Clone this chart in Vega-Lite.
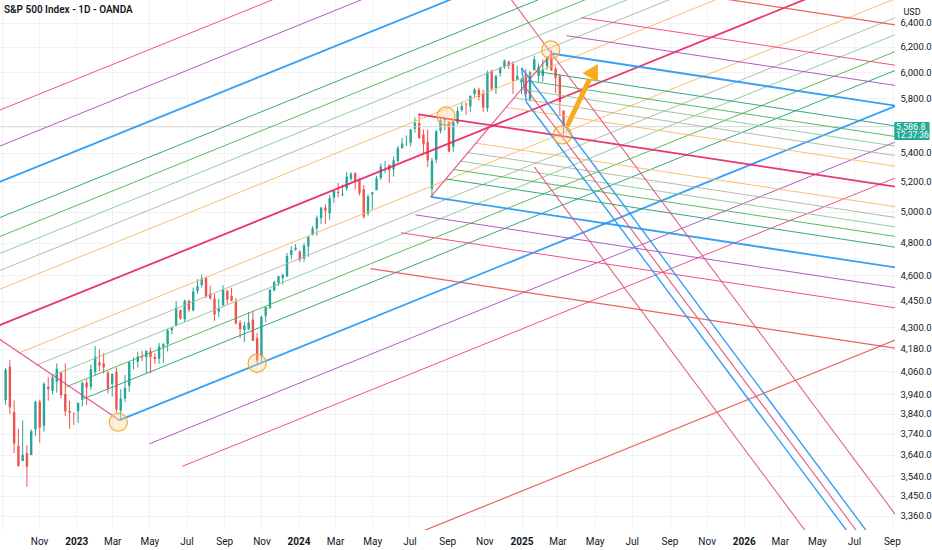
{
  "$schema": "https://vega.github.io/schema/vega-lite/v6.json",
  "width": 895,
  "height": 530,
  "autosize": {"type": "none"},
  "padding": {"left": 0, "top": 0, "right": 37, "bottom": 20},
  "background": "white",
  "config": {"view": {"stroke": null}, "font": "Roboto"},
  "title": {
    "text": "S&P 500 Index - 1D - OANDA",
    "anchor": "start",
    "frame": "group",
    "fontSize": 10,
    "fontWeight": 600,
    "color": "#131722",
    "offset": -15,
    "dx": 4
  },
  "datasets": {
    "candles": [
      {"d": "2022-09-07", "o": 3909, "h": 4076, "l": 3886, "c": 4067},
      {"d": "2022-09-14", "o": 4083, "h": 4119, "l": 3838, "c": 3873},
      {"d": "2022-09-21", "o": 3849, "h": 3907, "l": 3647, "c": 3693},
      {"d": "2022-09-28", "o": 3682, "h": 3763, "l": 3584, "c": 3586},
      {"d": "2022-10-05", "o": 3610, "h": 3807, "l": 3610, "c": 3640},
      {"d": "2022-10-12", "o": 3647, "h": 3686, "l": 3491, "c": 3583},
      {"d": "2022-10-19", "o": 3638, "h": 3762, "l": 3640, "c": 3753},
      {"d": "2022-10-26", "o": 3762, "h": 3905, "l": 3731, "c": 3901},
      {"d": "2022-11-02", "o": 3901, "h": 3911, "l": 3698, "c": 3771},
      {"d": "2022-11-09", "o": 3780, "h": 4001, "l": 3751, "c": 3993},
      {"d": "2022-11-16", "o": 3978, "h": 4028, "l": 3906, "c": 3965},
      {"d": "2022-11-23", "o": 3956, "h": 4034, "l": 3938, "c": 4026},
      {"d": "2022-11-30", "o": 4005, "h": 4101, "l": 3947, "c": 4072},
      {"d": "2022-12-07", "o": 4053, "h": 4053, "l": 3919, "c": 3934},
      {"d": "2022-12-14", "o": 3940, "h": 4101, "l": 3828, "c": 3852},
      {"d": "2022-12-21", "o": 3854, "h": 3906, "l": 3765, "c": 3845},
      {"d": "2022-12-28", "o": 3843, "h": 3846, "l": 3784, "c": 3840},
      {"d": "2023-01-04", "o": 3853, "h": 3896, "l": 3794, "c": 3895},
      {"d": "2023-01-11", "o": 3911, "h": 4004, "l": 3877, "c": 3999},
      {"d": "2023-01-18", "o": 3999, "h": 4015, "l": 3885, "c": 3973},
      {"d": "2023-01-25", "o": 3978, "h": 4095, "l": 3960, "c": 4071},
      {"d": "2023-02-01", "o": 4055, "h": 4195, "l": 4037, "c": 4136},
      {"d": "2023-02-08", "o": 4106, "h": 4176, "l": 4060, "c": 4090},
      {"d": "2023-02-15", "o": 4101, "h": 4156, "l": 4047, "c": 4079},
      {"d": "2023-02-22", "o": 4052, "h": 4060, "l": 3943, "c": 3970},
      {"d": "2023-03-01", "o": 3993, "h": 4048, "l": 3928, "c": 4045},
      {"d": "2023-03-08", "o": 4056, "h": 4079, "l": 3847, "c": 3861},
      {"d": "2023-03-15", "o": 3855, "h": 3965, "l": 3808, "c": 3917},
      {"d": "2023-03-22", "o": 3917, "h": 4039, "l": 3899, "c": 3971},
      {"d": "2023-03-29", "o": 3982, "h": 4110, "l": 3951, "c": 4109},
      {"d": "2023-04-05", "o": 4102, "h": 4133, "l": 4069, "c": 4105},
      {"d": "2023-04-12", "o": 4110, "h": 4164, "l": 4079, "c": 4138},
      {"d": "2023-04-19", "o": 4140, "h": 4169, "l": 4114, "c": 4133},
      {"d": "2023-04-26", "o": 4134, "h": 4170, "l": 4049, "c": 4169},
      {"d": "2023-05-03", "o": 4167, "h": 4187, "l": 4049, "c": 4136},
      {"d": "2023-05-10", "o": 4136, "h": 4155, "l": 4098, "c": 4124},
      {"d": "2023-05-17", "o": 4127, "h": 4212, "l": 4099, "c": 4192},
      {"d": "2023-05-24", "o": 4190, "h": 4212, "l": 4103, "c": 4205},
      {"d": "2023-05-31", "o": 4206, "h": 4290, "l": 4166, "c": 4282},
      {"d": "2023-06-07", "o": 4283, "h": 4299, "l": 4260, "c": 4299},
      {"d": "2023-06-14", "o": 4308, "h": 4449, "l": 4305, "c": 4410},
      {"d": "2023-06-21", "o": 4396, "h": 4400, "l": 4341, "c": 4348},
      {"d": "2023-06-28", "o": 4345, "h": 4458, "l": 4328, "c": 4450},
      {"d": "2023-07-05", "o": 4450, "h": 4456, "l": 4385, "c": 4399},
      {"d": "2023-07-12", "o": 4395, "h": 4528, "l": 4389, "c": 4505},
      {"d": "2023-07-19", "o": 4507, "h": 4578, "l": 4493, "c": 4536},
      {"d": "2023-07-26", "o": 4543, "h": 4607, "l": 4528, "c": 4582},
      {"d": "2023-08-02", "o": 4585, "h": 4594, "l": 4466, "c": 4478},
      {"d": "2023-08-09", "o": 4492, "h": 4540, "l": 4458, "c": 4464},
      {"d": "2023-08-16", "o": 4464, "h": 4490, "l": 4335, "c": 4370},
      {"d": "2023-08-23", "o": 4389, "h": 4462, "l": 4356, "c": 4406},
      {"d": "2023-08-30", "o": 4426, "h": 4541, "l": 4415, "c": 4516},
      {"d": "2023-09-06", "o": 4510, "h": 4514, "l": 4430, "c": 4457},
      {"d": "2023-09-13", "o": 4480, "h": 4527, "l": 4448, "c": 4450},
      {"d": "2023-09-20", "o": 4445, "h": 4466, "l": 4316, "c": 4320},
      {"d": "2023-09-27", "o": 4325, "h": 4339, "l": 4238, "c": 4288},
      {"d": "2023-10-04", "o": 4284, "h": 4330, "l": 4216, "c": 4309},
      {"d": "2023-10-11", "o": 4289, "h": 4385, "l": 4283, "c": 4327},
      {"d": "2023-10-18", "o": 4342, "h": 4394, "l": 4223, "c": 4224},
      {"d": "2023-10-25", "o": 4239, "h": 4268, "l": 4103, "c": 4117},
      {"d": "2023-11-01", "o": 4139, "h": 4366, "l": 4113, "c": 4358},
      {"d": "2023-11-08", "o": 4364, "h": 4415, "l": 4329, "c": 4415},
      {"d": "2023-11-15", "o": 4407, "h": 4520, "l": 4406, "c": 4514},
      {"d": "2023-11-22", "o": 4511, "h": 4568, "l": 4506, "c": 4559},
      {"d": "2023-11-29", "o": 4555, "h": 4598, "l": 4537, "c": 4595},
      {"d": "2023-12-06", "o": 4584, "h": 4609, "l": 4546, "c": 4604},
      {"d": "2023-12-13", "o": 4593, "h": 4738, "l": 4593, "c": 4719},
      {"d": "2023-12-20", "o": 4725, "h": 4778, "l": 4697, "c": 4754},
      {"d": "2023-12-27", "o": 4758, "h": 4793, "l": 4751, "c": 4770},
      {"d": "2024-01-03", "o": 4745, "h": 4755, "l": 4682, "c": 4697},
      {"d": "2024-01-10", "o": 4703, "h": 4798, "l": 4683, "c": 4784},
      {"d": "2024-01-17", "o": 4777, "h": 4842, "l": 4714, "c": 4840},
      {"d": "2024-01-24", "o": 4853, "h": 4907, "l": 4845, "c": 4891},
      {"d": "2024-01-31", "o": 4892, "h": 4975, "l": 4845, "c": 4959},
      {"d": "2024-02-07", "o": 4957, "h": 5030, "l": 4918, "c": 5027},
      {"d": "2024-02-14", "o": 5026, "h": 5048, "l": 4920, "c": 5006},
      {"d": "2024-02-21", "o": 4989, "h": 5111, "l": 4946, "c": 5089},
      {"d": "2024-02-28", "o": 5093, "h": 5140, "l": 5058, "c": 5137},
      {"d": "2024-03-06", "o": 5131, "h": 5190, "l": 5095, "c": 5124},
      {"d": "2024-03-13", "o": 5111, "h": 5180, "l": 5101, "c": 5117},
      {"d": "2024-03-20", "o": 5154, "h": 5265, "l": 5138, "c": 5234},
      {"d": "2024-03-27", "o": 5219, "h": 5264, "l": 5203, "c": 5254},
      {"d": "2024-04-03", "o": 5257, "h": 5264, "l": 5146, "c": 5204},
      {"d": "2024-04-10", "o": 5217, "h": 5222, "l": 5107, "c": 5123},
      {"d": "2024-04-17", "o": 5149, "h": 5176, "l": 4954, "c": 4967},
      {"d": "2024-04-24", "o": 4988, "h": 5114, "l": 4973, "c": 5100},
      {"d": "2024-05-01", "o": 5114, "h": 5129, "l": 5011, "c": 5128},
      {"d": "2024-05-08", "o": 5142, "h": 5239, "l": 5142, "c": 5223},
      {"d": "2024-05-15", "o": 5225, "h": 5325, "l": 5211, "c": 5303},
      {"d": "2024-05-22", "o": 5305, "h": 5342, "l": 5257, "c": 5305},
      {"d": "2024-05-29", "o": 5316, "h": 5316, "l": 5192, "c": 5278},
      {"d": "2024-06-05", "o": 5284, "h": 5375, "l": 5234, "c": 5347},
      {"d": "2024-06-12", "o": 5341, "h": 5447, "l": 5331, "c": 5432},
      {"d": "2024-06-19", "o": 5432, "h": 5505, "l": 5430, "c": 5465},
      {"d": "2024-06-26", "o": 5459, "h": 5524, "l": 5447, "c": 5460},
      {"d": "2024-07-03", "o": 5471, "h": 5570, "l": 5445, "c": 5567},
      {"d": "2024-07-10", "o": 5572, "h": 5655, "l": 5545, "c": 5615},
      {"d": "2024-07-17", "o": 5614, "h": 5687, "l": 5498, "c": 5505},
      {"d": "2024-07-24", "o": 5529, "h": 5566, "l": 5390, "c": 5459},
      {"d": "2024-07-31", "o": 5476, "h": 5566, "l": 5300, "c": 5346},
      {"d": "2024-08-07", "o": 5151, "h": 5364, "l": 5097, "c": 5344},
      {"d": "2024-08-14", "o": 5351, "h": 5563, "l": 5327, "c": 5554},
      {"d": "2024-08-21", "o": 5557, "h": 5643, "l": 5539, "c": 5634},
      {"d": "2024-08-28", "o": 5637, "h": 5651, "l": 5560, "c": 5648},
      {"d": "2024-09-04", "o": 5623, "h": 5623, "l": 5403, "c": 5408},
      {"d": "2024-09-11", "o": 5442, "h": 5636, "l": 5406, "c": 5626},
      {"d": "2024-09-18", "o": 5615, "h": 5734, "l": 5602, "c": 5703},
      {"d": "2024-09-25", "o": 5711, "h": 5768, "l": 5697, "c": 5738},
      {"d": "2024-10-02", "o": 5757, "h": 5765, "l": 5674, "c": 5751},
      {"d": "2024-10-09", "o": 5737, "h": 5822, "l": 5695, "c": 5815},
      {"d": "2024-10-16", "o": 5830, "h": 5878, "l": 5801, "c": 5864},
      {"d": "2024-10-23", "o": 5863, "h": 5878, "l": 5782, "c": 5808},
      {"d": "2024-10-30", "o": 5833, "h": 5863, "l": 5696, "c": 5729},
      {"d": "2024-11-06", "o": 5723, "h": 6012, "l": 5696, "c": 5996},
      {"d": "2024-11-13", "o": 6008, "h": 6018, "l": 5853, "c": 5871},
      {"d": "2024-11-20", "o": 5874, "h": 5978, "l": 5830, "c": 5969},
      {"d": "2024-11-27", "o": 5992, "h": 6044, "l": 5964, "c": 6032},
      {"d": "2024-12-04", "o": 6041, "h": 6099, "l": 6025, "c": 6090},
      {"d": "2024-12-11", "o": 6083, "h": 6089, "l": 6024, "c": 6051},
      {"d": "2024-12-18", "o": 6063, "h": 6085, "l": 5832, "c": 5931},
      {"d": "2024-12-25", "o": 5940, "h": 6049, "l": 5933, "c": 5971},
      {"d": "2025-01-01", "o": 5920, "h": 5949, "l": 5829, "c": 5942},
      {"d": "2025-01-08", "o": 5982, "h": 6022, "l": 5808, "c": 5827},
      {"d": "2025-01-15", "o": 5788, "h": 6007, "l": 5774, "c": 5997},
      {"d": "2025-01-22", "o": 6014, "h": 6128, "l": 6014, "c": 6101},
      {"d": "2025-01-29", "o": 5969, "h": 6069, "l": 5924, "c": 6041},
      {"d": "2025-02-05", "o": 5970, "h": 6101, "l": 5923, "c": 6026},
      {"d": "2025-02-12", "o": 6046, "h": 6128, "l": 6016, "c": 6115},
      {"d": "2025-02-19", "o": 6121, "h": 6176, "l": 6009, "c": 6013},
      {"d": "2025-02-26", "o": 6027, "h": 6044, "l": 5837, "c": 5955},
      {"d": "2025-03-05", "o": 5968, "h": 5986, "l": 5667, "c": 5770},
      {"d": "2025-03-11", "o": 5705, "h": 5705, "l": 5528, "c": 5587}
    ],
    "lines": [
      {"fork": "A", "level": "1.5", "d1": "2022-06-01", "p1": 5549, "d2": "2026-12-13", "p2": 9454},
      {"fork": "A", "level": "1.25", "d1": "2022-06-01", "p1": 5294, "d2": "2026-12-13", "p2": 9021},
      {"fork": "A", "level": "1", "d1": "2022-06-01", "p1": 5052, "d2": "2026-12-13", "p2": 8609},
      {"fork": "A", "level": "0.75", "d1": "2022-06-01", "p1": 4822, "d2": "2026-12-13", "p2": 8216},
      {"fork": "A", "level": "0.618", "d1": "2022-06-01", "p1": 4704, "d2": "2026-12-13", "p2": 8015},
      {"fork": "A", "level": "0.5", "d1": "2022-06-01", "p1": 4601, "d2": "2026-12-13", "p2": 7840},
      {"fork": "A", "level": "0.382", "d1": "2022-06-01", "p1": 4500, "d2": "2026-12-13", "p2": 7668},
      {"fork": "A", "level": "0.25", "d1": "2022-06-01", "p1": 4391, "d2": "2026-12-13", "p2": 7481},
      {"fork": "A", "level": "median", "d1": "2022-06-01", "p1": 4190, "d2": "2026-12-13", "p2": 7139},
      {"fork": "A", "level": "0.25", "d1": "2022-09-28", "p1": 4156, "d2": "2026-12-13", "p2": 6813},
      {"fork": "A", "level": "0.382", "d1": "2022-10-27", "p1": 4091, "d2": "2026-12-13", "p2": 6647},
      {"fork": "A", "level": "0.5", "d1": "2022-11-21", "p1": 4034, "d2": "2026-12-13", "p2": 6501},
      {"fork": "A", "level": "0.618", "d1": "2022-12-16", "p1": 3978, "d2": "2026-12-13", "p2": 6359},
      {"fork": "A", "level": "0.75", "d1": "2023-01-14", "p1": 3917, "d2": "2026-12-13", "p2": 6204},
      {"fork": "A", "level": "1", "d1": "2023-03-13", "p1": 3808, "d2": "2026-12-13", "p2": 5921},
      {"fork": "A", "level": "1.25", "d1": "2023-05-01", "p1": 3692, "d2": "2026-12-13", "p2": 5650},
      {"fork": "A", "level": "1.5", "d1": "2023-06-24", "p1": 3585, "d2": "2026-12-13", "p2": 5391},
      {"fork": "A", "level": "2.618", "d1": "2024-05-15", "p1": 3222, "d2": "2026-12-13", "p2": 4363},
      {"fork": "A", "level": "handle", "d1": "2022-06-01", "p1": 4438, "d2": "2023-03-13", "p2": 3808},
      {"fork": "B", "level": "median", "d1": "2024-07-16", "p1": 5678, "d2": "2026-12-13", "p2": 5106},
      {"fork": "B", "level": "0.25", "d1": "2024-12-07", "p1": 5730, "d2": "2026-12-13", "p2": 5243},
      {"fork": "B", "level": "0.382", "d1": "2024-12-20", "p1": 5801, "d2": "2026-12-13", "p2": 5317},
      {"fork": "B", "level": "0.5", "d1": "2024-12-31", "p1": 5866, "d2": "2026-12-13", "p2": 5383},
      {"fork": "B", "level": "0.618", "d1": "2025-01-12", "p1": 5931, "d2": "2026-12-13", "p2": 5451},
      {"fork": "B", "level": "0.75", "d1": "2025-01-25", "p1": 6005, "d2": "2026-12-13", "p2": 5527},
      {"fork": "B", "level": "1", "d1": "2025-02-19", "p1": 6147, "d2": "2026-12-13", "p2": 5675},
      {"fork": "B", "level": "1.25", "d1": "2025-03-16", "p1": 6292, "d2": "2026-12-13", "p2": 5827},
      {"fork": "B", "level": "1.5", "d1": "2025-04-09", "p1": 6442, "d2": "2026-12-13", "p2": 5983},
      {"fork": "B", "level": "2", "d1": "2025-05-29", "p1": 6750, "d2": "2026-12-13", "p2": 6307},
      {"fork": "B", "level": "0.25", "d1": "2024-10-18", "p1": 5468, "d2": "2026-12-13", "p2": 4973},
      {"fork": "B", "level": "0.382", "d1": "2024-10-05", "p1": 5401, "d2": "2026-12-13", "p2": 4904},
      {"fork": "B", "level": "0.5", "d1": "2024-09-23", "p1": 5341, "d2": "2026-12-13", "p2": 4844},
      {"fork": "B", "level": "0.618", "d1": "2024-09-12", "p1": 5283, "d2": "2026-12-13", "p2": 4784},
      {"fork": "B", "level": "0.75", "d1": "2024-08-30", "p1": 5218, "d2": "2026-12-13", "p2": 4717},
      {"fork": "B", "level": "1", "d1": "2024-08-05", "p1": 5097, "d2": "2026-12-13", "p2": 4594},
      {"fork": "B", "level": "1.25", "d1": "2024-07-11", "p1": 4979, "d2": "2026-12-13", "p2": 4475},
      {"fork": "B", "level": "1.5", "d1": "2024-06-17", "p1": 4864, "d2": "2026-12-13", "p2": 4358},
      {"fork": "B", "level": "2", "d1": "2024-04-28", "p1": 4641, "d2": "2026-12-13", "p2": 4134},
      {"fork": "B", "level": "handle", "d1": "2024-08-05", "p1": 5097, "d2": "2025-02-19", "p2": 6147},
      {"fork": "C", "level": "steep", "d1": "2024-11-10", "p1": 6848, "d2": "2026-10-09", "p2": 3253},
      {"fork": "C", "level": "steep blue", "d1": "2025-01-01", "p1": 6032, "d2": "2026-09-06", "p2": 3135},
      {"fork": "C", "level": "steep blue", "d1": "2025-01-09", "p1": 5770, "d2": "2026-08-05", "p2": 3135},
      {"fork": "C", "level": "steep blue", "d1": "2025-01-01", "p1": 6032, "d2": "2025-01-09", "p2": 5770},
      {"fork": "C", "level": "steep", "d1": "2025-01-04", "p1": 5900, "d2": "2026-08-21", "p2": 3135},
      {"fork": "C", "level": "steep", "d1": "2025-01-22", "p1": 5301, "d2": "2026-06-01", "p2": 3124}
    ],
    "spots": [
      {"d": "2023-03-11", "p": 3798},
      {"d": "2023-10-25", "p": 4102},
      {"d": "2024-08-30", "p": 5665},
      {"d": "2025-02-18", "p": 6176},
      {"d": "2025-03-09", "p": 5527}
    ],
    "arrow": [
      {"d1": "2025-03-17", "p1": 5590, "d2": "2025-04-23", "p2": 5948, "hd": "2025-04-30", "hp": 6009}
    ]
  },
  "layer": [
    {
      "data": {"name": "candles"},
      "mark": {"type": "rule", "clip": true, "strokeWidth": 1},
      "encoding": {
        "x": {
          "field": "d",
          "type": "temporal",
          "scale": {"domain": [{"year": 2022, "month": 9, "date": 6}, {"year": 2026, "month": 8, "date": 29}], "nice": false},
          "axis": {
            "orient": "bottom",
            "title": null,
            "tickCount": {"interval": "month", "step": 2},
            "labelExpr": "datum.value < datetime(2022, 8, 20) ? '' : month(datum.value) == 0 ? timeFormat(datum.value, '%Y') : timeFormat(datum.value, '%b')",
            "labelFontWeight": {"condition": {"test": "month(datum.value) == 0", "value": "bold"}, "value": "normal"},
            "grid": true,
            "gridColor": "#f0f2f6",
            "domain": false,
            "ticks": false,
            "labelPadding": 6,
            "labelFontSize": 10,
            "labelColor": "#131722",
            "labelOverlap": false,
            "labelFlush": false
          }
        },
        "y": {
          "field": "l",
          "type": "quantitative",
          "scale": {"type": "log", "domain": [3299, 6592], "nice": false},
          "axis": {
            "orient": "right",
            "values": [6400, 6200, 6000, 5800, 5400, 5200, 5000, 4800, 4600, 4450, 4300, 4180, 4060, 3940, 3840, 3740, 3640, 3540, 3450, 3360],
            "format": ",.1f",
            "grid": true,
            "gridColor": "#f0f2f6",
            "domain": false,
            "ticks": false,
            "labelPadding": 5,
            "labelFontSize": 9.5,
            "labelColor": "#131722",
            "labelOverlap": false,
            "labelBound": false,
            "title": "USD",
            "titleAngle": 0,
            "titleX": 8,
            "titleY": 11,
            "titleAlign": "left",
            "titleBaseline": "middle",
            "titleFontSize": 9,
            "titleFontWeight": "normal",
            "titleColor": "#131722"
          }
        },
        "y2": {"field": "h"},
        "color": {"condition": {"test": "datum.c >= datum.o", "value": "#26a69a"}, "value": "#ef5350"}
      }
    },
    {
      "data": {"name": "candles"},
      "mark": {"type": "bar", "clip": true, "width": 2.4},
      "encoding": {
        "x": {"field": "d", "type": "temporal"},
        "y": {"field": "o", "type": "quantitative"},
        "y2": {"field": "c"},
        "color": {"condition": {"test": "datum.c >= datum.o", "value": "#26a69a"}, "value": "#ef5350"}
      }
    },
    {
      "data": {"values": [{}]},
      "mark": {"type": "rule", "color": "#d3d6dc", "strokeWidth": 1},
      "encoding": {
        "y": {"datum": 5586.8, "type": "quantitative"}
      }
    },
    {
      "data": {"name": "lines"},
      "mark": {"type": "rule", "clip": true, "opacity": 0.9},
      "encoding": {
        "x": {"field": "d1", "type": "temporal"},
        "x2": {"field": "d2"},
        "y": {"field": "p1", "type": "quantitative"},
        "y2": {"field": "p2"},
        "color": {
          "field": "level",
          "type": "nominal",
          "legend": null,
          "scale": {
            "domain": ["median", "handle", "0.25", "0.382", "0.5", "0.618", "0.75", "1", "1.25", "1.5", "2", "2.618", "steep", "steep blue"],
            "range": ["#e91e63", "#e8457a", "#f8b862", "#aab79f", "#86c98c", "#4caf50", "#1f9e72", "#2196f3", "#ab47bc", "#ec407a", "#e5534b", "#e5534b", "#e2506f", "#2196f3"]
          }
        },
        "strokeWidth": {
          "field": "level",
          "type": "nominal",
          "legend": null,
          "scale": {
            "type": "ordinal",
            "domain": ["median", "handle", "0.25", "0.382", "0.5", "0.618", "0.75", "1", "1.25", "1.5", "2", "2.618", "steep", "steep blue"],
            "range": [1.8, 1.2, 1, 1, 1, 1, 1, 1.8, 1, 1, 1.2, 1.2, 1.1, 1.4]
          }
        }
      }
    },
    {
      "data": {"name": "spots"},
      "mark": {"type": "point", "shape": "circle", "size": 330, "fill": "#fcd48a", "fillOpacity": 0.35, "stroke": "#f2a93b", "strokeWidth": 1.2, "opacity": 1},
      "encoding": {
        "x": {"field": "d", "type": "temporal"},
        "y": {"field": "p", "type": "quantitative"}
      }
    },
    {
      "data": {"name": "arrow"},
      "mark": {"type": "rule", "color": "#f7ab1e", "strokeWidth": 5},
      "encoding": {
        "x": {"field": "d1", "type": "temporal"},
        "x2": {"field": "d2"},
        "y": {"field": "p1", "type": "quantitative"},
        "y2": {"field": "p2"}
      }
    },
    {
      "data": {"name": "arrow"},
      "mark": {"type": "point", "shape": "triangle-up", "size": 320, "angle": 29, "filled": true, "color": "#f7ab1e", "opacity": 1},
      "encoding": {
        "x": {"field": "hd", "type": "temporal"},
        "y": {"field": "hp", "type": "quantitative"}
      }
    },
    {
      "data": {"values": [{}]},
      "mark": {"type": "rect", "color": "#22ab94", "clip": false, "cornerRadius": 1},
      "encoding": {
        "x": {"datum": {"year": 2026, "month": 9, "date": 5}, "type": "temporal"},
        "x2": {"datum": {"year": 2026, "month": 11, "date": 2}},
        "y": {"datum": 5621, "type": "quantitative"},
        "y2": {"datum": 5491}
      }
    },
    {
      "data": {"values": [{}]},
      "mark": {"type": "text", "text": "5,586.8", "color": "white", "fontSize": 9, "align": "left", "baseline": "middle", "clip": false},
      "encoding": {
        "x": {"datum": {"year": 2026, "month": 9, "date": 8}, "type": "temporal"},
        "y": {"datum": 5586.8, "type": "quantitative"}
      }
    },
    {
      "data": {"values": [{}]},
      "mark": {"type": "text", "text": "12:37:36", "color": "white", "fontSize": 8.5, "align": "left", "baseline": "middle", "clip": false},
      "encoding": {
        "x": {"datum": {"year": 2026, "month": 9, "date": 8}, "type": "temporal"},
        "y": {"datum": 5527, "type": "quantitative"}
      }
    }
  ]
}
